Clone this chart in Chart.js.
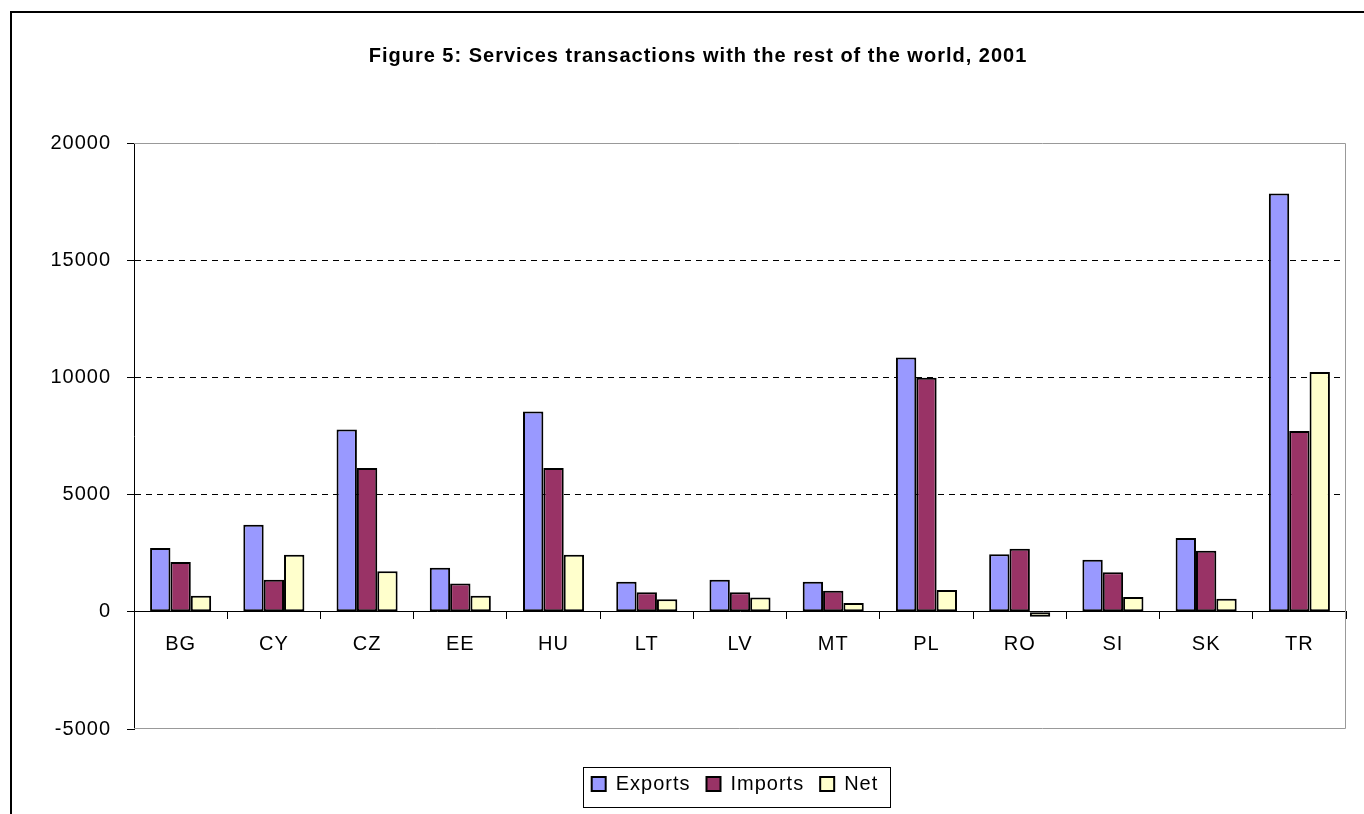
<!DOCTYPE html>
<html>
<head>
<meta charset="utf-8">
<title>Services transactions with the rest of the world, 2001</title>
<script src="https://cdn.jsdelivr.net/npm/chart.js@4/dist/chart.umd.min.js"></script>
<style>
  html, body { margin: 0; padding: 0; background: #fff; }
  #chart { display: block; }
</style>
</head>
<body>
<canvas id="chart" width="1364" height="814"></canvas>
<script>
const countries = ["BG", "CY", "CZ", "EE", "HU", "LT", "LV", "MT", "PL", "RO", "SI", "SK", "TR"];
const exportsVals = [2725, 3710, 7780, 1880, 8540, 1285, 1370, 1285, 10850, 2460, 2220, 3145, 17850];
const importsVals = [2120, 1370, 6130, 1210, 6130, 830, 830, 900, 9980, 2690, 1690, 2600, 7710];
const netVals = [680, 2430, 1730, 680, 2430, 535, 605, 380, 925, -215, 630, 555, 10230];
const gridValues = [5000, 10000, 15000];

const FONT = "'Liberation Sans', Arial, sans-serif";
Chart.defaults.font.family = FONT;
Chart.defaults.color = "#000";

// bordure du graphique, cadre de la zone de tracé et cadre de la légende
const cadres = {
  id: "cadres",
  beforeLayout(chart) { chart.ctx.letterSpacing = "1px"; },
  beforeDraw(chart) { chart.ctx.letterSpacing = "1px"; },
  afterLayout(chart) {
    const lg = chart.legend;
    lg.left += 37; lg.right += 37;
    lg.top += 29; lg.bottom += 29;
  },
  afterDatasetsDraw(chart) {
    const { ctx, chartArea: a } = chart;
    ctx.save();
    ctx.strokeStyle = "#999";
    ctx.lineWidth = 1;
    ctx.beginPath();
    ctx.moveTo(a.left, Math.round(a.top) + 0.5);
    ctx.lineTo(Math.round(a.right) - 0.5, Math.round(a.top) + 0.5);
    ctx.lineTo(Math.round(a.right) - 0.5, Math.round(a.bottom) - 0.5);
    ctx.lineTo(a.left, Math.round(a.bottom) - 0.5);
    ctx.stroke();
    ctx.restore();
  },
  afterDraw(chart) {
    const ctx = chart.ctx;
    ctx.save();
    ctx.strokeStyle = "#000";
    ctx.lineWidth = 2;
    ctx.strokeRect(11, 12, 2000, 2000);
    const hb = chart.legend.legendHitBoxes;
    if (hb && hb.length) {
      const first = hb[0];
      const last = hb[hb.length - 1];
      const x = Math.round(first.left - 9) + 0.5;
      const y = Math.round(first.top - 7) + 0.5;
      const w = Math.round(last.left + last.width - first.left + 20);
      ctx.lineWidth = 1;
      ctx.strokeRect(x, y, w, 40);
    }
    ctx.restore();
  },
};

function makeDataset(label, values, color) {
  return {
    label: label,
    data: values,
    backgroundColor: color,
    borderColor: "#000",
    borderWidth: 2,
    borderSkipped: false,
    categoryPercentage: 0.655,
    barPercentage: 1.0,
  };
}

new Chart(document.getElementById("chart"), {
  type: "bar",
  data: {
    labels: countries,
    datasets: [
      makeDataset("Exports", exportsVals, "#9999FF"),
      makeDataset("Imports", importsVals, "#993366"),
      makeDataset("Net", netVals, "#FFFFCC"),
    ],
  },
  options: {
    responsive: false,
    animation: false,
    layout: { padding: { left: 50, right: 18, top: 0, bottom: 39 } },
    plugins: {
      title: {
        display: true,
        text: "Figure 5: Services transactions with the rest of the world, 2001",
        color: "#000",
        font: { size: 20, weight: "bold" },
        padding: { top: 44.5, bottom: 74.5 },
      },
      legend: {
        position: "bottom",
        labels: { color: "#000", font: { size: 20 }, boxWidth: 14, boxHeight: 14, padding: 16 },
      },
      tooltip: { enabled: false },
    },
    scales: {
      x: {
        position: { y: 0 },
        grid: { drawOnChartArea: false, drawTicks: true, tickLength: 7, tickColor: "#000", offset: true },
        border: { display: true, color: "#000", width: 1 },
        ticks: { color: "#000", padding: 14, font: { size: 20 }, maxRotation: 0, autoSkip: false },
      },
      y: {
        min: -5000,
        max: 20000,
        afterFit: (scale) => { scale.width = 84; },
        ticks: {
          stepSize: 5000,
          color: "#000",
          padding: 16,
          font: { size: 20 },
          callback: (v) => String(v),
        },
        grid: {
          color: (ctx) => (gridValues.includes(ctx.tick && ctx.tick.value) ? "#000" : "rgba(0,0,0,0)"),
          tickColor: "#000",
          tickLength: 7,
          lineWidth: 1,
        },
        border: { display: true, color: "#000", width: 1, dash: [6, 5] },
      },
    },
  },
  plugins: [cadres],
});
</script>
</body>
</html>
